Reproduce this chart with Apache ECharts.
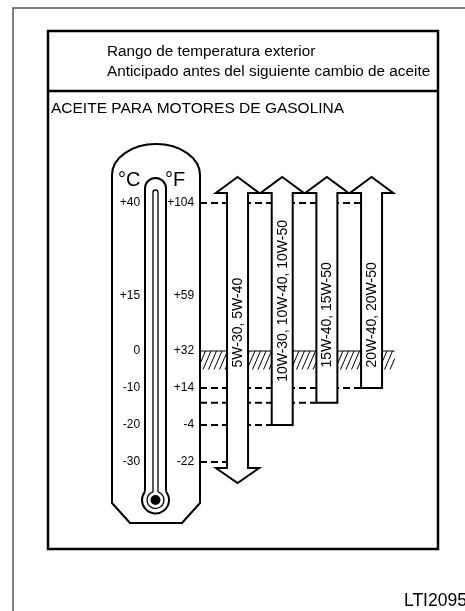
<!DOCTYPE html>
<html><head><meta charset="utf-8">
<script src="https://cdn.jsdelivr.net/npm/echarts@6/dist/echarts.min.js"></script>
<style>html,body{margin:0;padding:0;background:#fff}#c{width:465px;height:611px}</style>
</head><body><div id="c"></div>
<script>
// ---- data ----
const grades = ['5W-30, 5W-40', '10W-30, 10W-40, 10W-50', '15W-40, 15W-50', '20W-40, 20W-50'];
const minTempC = [-30, -20, -14, -10];
const maxTempC = [40, 40, 40, 40];
const openBelow = [true, false, false, false];
const hatchBandC = [-5, 0];
const tickC = [40, 15, 0, -10, -20, -30];
const tickCLabels = ['+40', '+15', '0', '-10', '-20', '-30'];
const tickF = [104, 59, 32, 14, -4, -22];
const tickFLabels = ['+104', '+59', '+32', '+14', '-4', '-22'];
const headerLines = ['Rango de temperatura exterior', 'Anticipado antes del siguiente cambio de aceite'];
const sectionTitle = 'ACEITE PARA MOTORES DE GASOLINA';
const figureCode = 'LTI2095';

// ---- layout / style ----
const FONT = '"Liberation Sans", Arial, Helvetica, sans-serif';
const THERMO_RIGHT = 200;
const measureCtx = document.createElement('canvas').getContext('2d');
measureCtx.font = '14px ' + FONT;

const chart = echarts.init(document.getElementById('c'), null, {renderer: 'canvas'});

function geom(api, i) {
  const cx = api.coord([i, 0])[0];
  const bw = api.size([1, 0])[0];
  return {cx: cx, bw: bw, sw: bw * 0.235, hw: bw * 0.485};
}

function renderBand(params, api) {
  const lo = api.value(1), hi = api.value(2);
  const yT = api.coord([0, hi])[1];
  const yB = api.coord([0, lo])[1];
  const g = geom(api, grades.length - 1);
  const x0 = THERMO_RIGHT, x1 = g.cx + g.hw + 1.5;
  const h = yB - yT, dx = 8, step = 5.5;
  const children = [{type: 'line', shape: {x1: x0, y1: yT, x2: x1, y2: yT}, style: {stroke: '#000', lineWidth: 1}}];
  for (let b = x0 - dx; b < x1; b += step) {
    let sx = b, sy = yB, ex = b + dx, ey = yT;
    if (sx < x0) { const t = (x0 - sx) / dx; sx = x0; sy = yB - t * h; }
    if (ex > x1) { const t = (ex - x1) / dx; ex = x1; ey = yT + t * h; }
    if (ex <= sx) continue;
    children.push({type: 'line', shape: {x1: sx, y1: sy, x2: ex, y2: ey}, style: {stroke: '#000', lineWidth: 1}});
  }
  return {type: 'group', children: children};
}

function renderGuides(params, api) {
  const i = api.value(0), lo = api.value(1), hi = api.value(2);
  const g = geom(api, i);
  const xe = g.cx - g.sw;
  const ls = {stroke: '#000', lineWidth: 2, lineDash: [7, 4]};
  const children = [];
  [lo, hi].forEach(function (t) {
    const y = api.coord([i, t])[1];
    children.push({type: 'line', shape: {x1: THERMO_RIGHT, y1: y, x2: xe, y2: y}, style: ls});
  });
  return {type: 'group', children: children};
}

function renderArrow(params, api) {
  const i = api.value(0), lo = api.value(1), hi = api.value(2);
  const g = geom(api, i);
  const cx = g.cx, sw = g.sw, hw = g.hw;
  const yLo = api.coord([i, lo])[1];
  const yHi = api.coord([i, hi])[1];
  const yBase = yHi - 10, headH = 16;
  const pts = [[cx - sw, yBase], [cx - hw, yBase], [cx, yBase - headH], [cx + hw, yBase], [cx + sw, yBase]];
  if (openBelow[i]) {
    const yb = yLo + 6;
    pts.push([cx + sw, yb], [cx + hw, yb], [cx, yb + 15], [cx - hw, yb], [cx - sw, yb]);
  } else {
    pts.push([cx + sw, yLo], [cx - sw, yLo]);
  }
  const text = grades[i];
  const len = measureCtx.measureText(text).width;
  let bottomY = api.coord([i, hatchBandC[0]])[1] - 2;
  const limit = yHi + 17;
  if (bottomY - len < limit) bottomY = limit + len;
  return {type: 'group', children: [
    {type: 'polygon', shape: {points: pts}, style: {fill: '#fff', stroke: '#000', lineWidth: 2, lineJoin: 'miter'}},
    {type: 'text', x: cx + 0.5, y: bottomY, rotation: Math.PI / 2,
     style: {text: text, font: '14px ' + FONT, fill: '#000', align: 'left', verticalAlign: 'middle'}}
  ]};
}

const arrowData = grades.map(function (g, i) { return [i, minTempC[i], maxTempC[i]]; });

function labelFmt(ticks, labels) {
  return function (v) { const k = ticks.indexOf(Math.round(v)); return k < 0 ? '' : labels[k]; };
}

// thermometer (decoration), drawn in pixel space
const tcx = 155.5, bulbY = 500, rO = 13.5, tO = 10.5, rI = 8.5, tI = 2.5;
const yJoinO = bulbY - Math.sqrt(rO * rO - tO * tO);
const yJoinI = bulbY - Math.sqrt(rI * rI - tI * tI);
const angO = Math.atan2(-(bulbY - yJoinO), tO), angI = Math.atan2(-(bulbY - yJoinI), tI);
const k = 0.5523;
const outerPath = 'M112,503 L112,175 C112,' + (175 - 31 * k) + ' ' + (156 - 44 * k) + ',144 156,144 C' + (156 + 44 * k) + ',144 200,' + (175 - 31 * k) + ' 200,175 L200,503 L182,523 L130,523 Z';
function tubePath(cx, half, yTop, yEnd) {
  const yc = yTop + half;
  return 'M' + (cx - half) + ',' + yEnd + ' L' + (cx - half) + ',' + yc +
    ' C' + (cx - half) + ',' + (yc - half * k) + ' ' + (cx - half * k) + ',' + yTop + ' ' + cx + ',' + yTop +
    ' C' + (cx + half * k) + ',' + yTop + ' ' + (cx + half) + ',' + (yc - half * k) + ' ' + (cx + half) + ',' + yc +
    ' L' + (cx + half) + ',' + yEnd;
}
function renderThermo() {
  return {type: 'group', children: [
    {type: 'path', shape: {pathData: outerPath}, style: {stroke: '#000', lineWidth: 2, fill: '#fff', lineJoin: 'miter'}},
    {type: 'path', shape: {pathData: tubePath(tcx, tO, 178, yJoinO)}, style: {stroke: '#000', lineWidth: 2, fill: null}},
    {type: 'arc', shape: {cx: tcx, cy: bulbY, r: rO, startAngle: angO, endAngle: Math.PI - angO, clockwise: true}, style: {stroke: '#000', lineWidth: 2, fill: null}},
    {type: 'path', shape: {pathData: tubePath(tcx, tI, 190, yJoinI)}, style: {stroke: '#000', lineWidth: 1.3, fill: null}},
    {type: 'arc', shape: {cx: tcx, cy: bulbY, r: rI, startAngle: angI, endAngle: Math.PI - angI, clockwise: true}, style: {stroke: '#000', lineWidth: 1.3, fill: null}},
    {type: 'circle', shape: {cx: tcx, cy: bulbY, r: 5}, style: {fill: '#000'}},
    {type: 'text', x: 118, y: 180, style: {text: '°C', font: '20px ' + FONT, fill: '#000', verticalAlign: 'middle'}},
    {type: 'text', x: 165, y: 180, style: {text: '°F', font: '20px ' + FONT, fill: '#000', verticalAlign: 'middle'}}
  ]};
}

const graphics = [
  {type: 'polyline', shape: {points: [[13, 611], [13, 8], [465, 8]]}, style: {stroke: '#555', lineWidth: 1.5, fill: null}},
  {type: 'rect', shape: {x: 48, y: 31, width: 390, height: 518}, style: {stroke: '#000', lineWidth: 2.5, fill: null}},
  {type: 'line', shape: {x1: 48, y1: 91, x2: 438, y2: 91}, style: {stroke: '#000', lineWidth: 2.5}},
  {type: 'text', x: 107, y: 52, style: {text: headerLines[0], font: '15.3px ' + FONT, fill: '#000', verticalAlign: 'middle'}},
  {type: 'text', x: 107, y: 72, style: {text: headerLines[1], font: '15.3px ' + FONT, fill: '#000', verticalAlign: 'middle'}},
  {type: 'text', x: 51, y: 109, style: {text: sectionTitle, font: '15.5px ' + FONT, fill: '#000', verticalAlign: 'middle'}},
  {type: 'text', x: 404, y: 601, style: {text: figureCode, font: '17.5px ' + FONT, fill: '#000', verticalAlign: 'middle'}}
];

const option = {
  animation: false,
  backgroundColor: '#fff',
  grid: {left: 215.2, width: 178.7, top: 166, height: 333},
  xAxis: {type: 'category', data: grades, show: false},
  yAxis: [
    {type: 'value', min: -40, max: 50, interval: 5, axisLine: {show: false}, axisTick: {show: false}, splitLine: {show: false}, z: 10,
     axisLabel: {margin: 75, color: '#000', fontSize: 12, fontFamily: FONT, formatter: labelFmt(tickC, tickCLabels)}},
    {type: 'value', position: 'left', min: -40, max: 122, interval: 9, axisLine: {show: false}, axisTick: {show: false}, splitLine: {show: false}, z: 10,
     axisLabel: {margin: 21, color: '#000', fontSize: 12, fontFamily: FONT, formatter: labelFmt(tickF, tickFLabels)}}
  ],
  graphic: {elements: graphics},
  series: [
    {type: 'custom', name: 'thermometer', clip: false, z: 0, yAxisIndex: 0, renderItem: renderThermo,
     data: [[0, 0]], silent: true},
    {type: 'custom', name: 'band', clip: false, z: 1, yAxisIndex: 0, renderItem: renderBand,
     data: [[0, hatchBandC[0], hatchBandC[1]]], encode: {x: 0, y: [1, 2]}, silent: true},
    {type: 'custom', name: 'guides', clip: false, z: 2, yAxisIndex: 0, renderItem: renderGuides,
     data: arrowData, encode: {x: 0, y: [1, 2]}, silent: true},
    {type: 'custom', name: 'grades', clip: false, z: 3, yAxisIndex: 0, renderItem: renderArrow,
     data: arrowData, encode: {x: 0, y: [1, 2]}}
  ]
};
chart.setOption(option);
</script></body></html>
